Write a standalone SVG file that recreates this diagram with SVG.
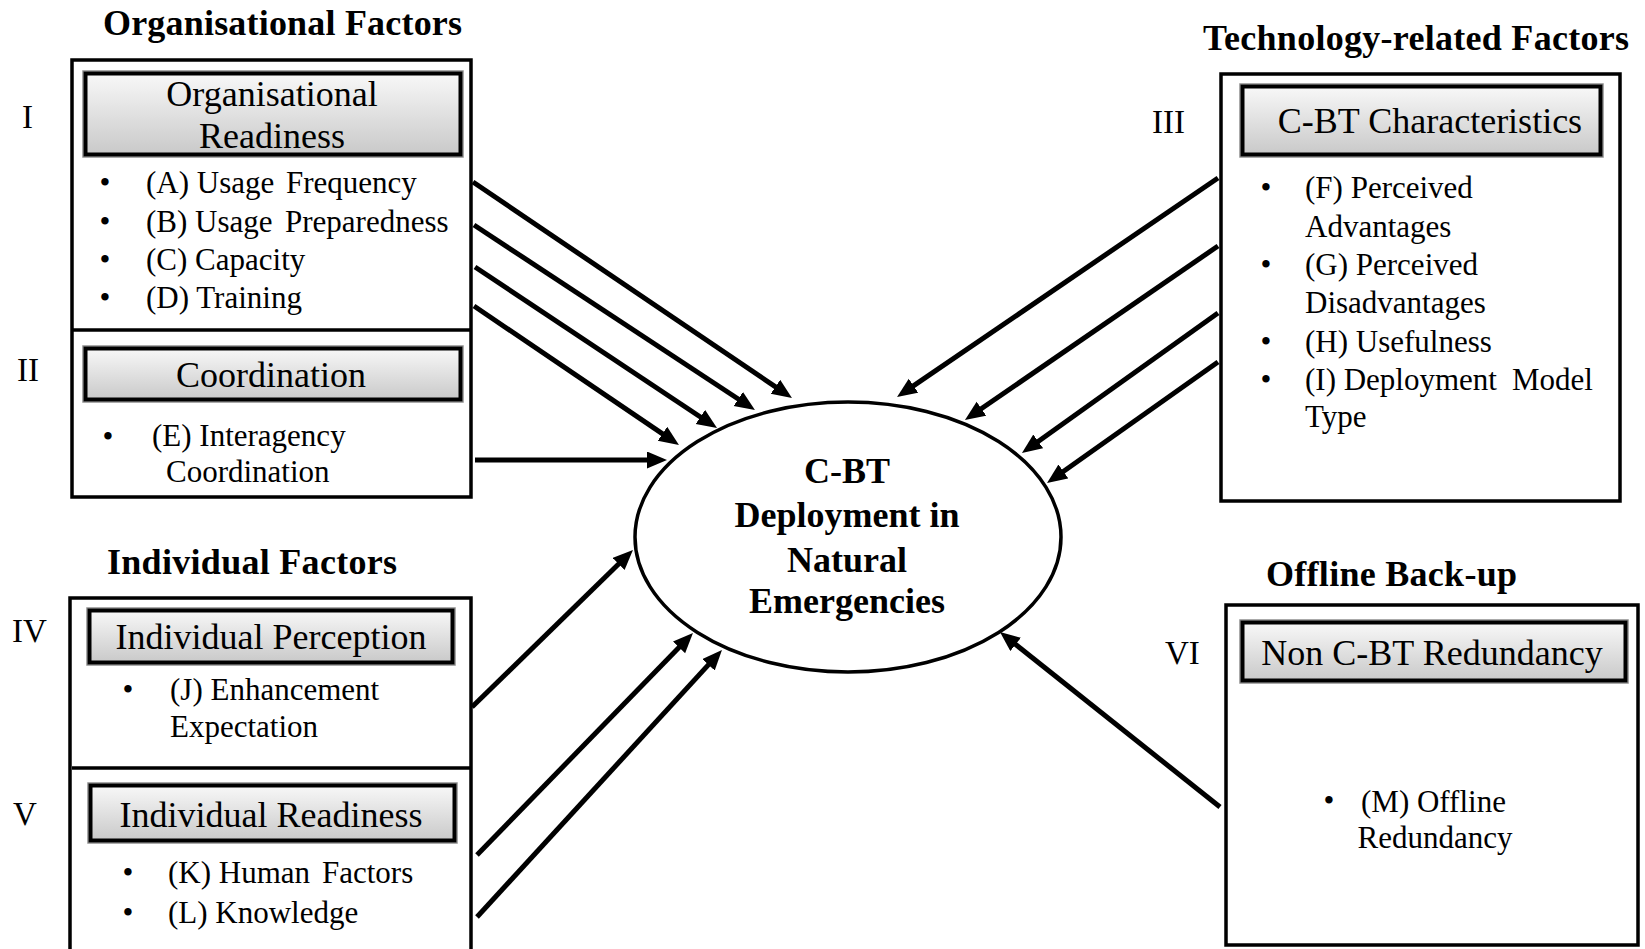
<svg xmlns="http://www.w3.org/2000/svg" width="1645" height="949" viewBox="0 0 1645 949">
<style>
.t{font-family:"Liberation Serif","Times New Roman",serif;fill:#000}
.title{font-size:36px;font-weight:bold}
.hd{font-size:36px;text-anchor:middle}
.li{font-size:31px}
.bl{font-size:31px;text-anchor:middle}
.num{font-size:33px}
.ct{font-size:36px;font-weight:bold;text-anchor:middle}
.box{fill:#fff;stroke:#000;stroke-width:3.5}
.hbox{fill:url(#hg);stroke:#000;stroke-width:4}
.hedge{fill:none;stroke:#8e8e8e;stroke-width:1.5}
.arr{stroke:#000;stroke-width:5;fill:none;marker-end:url(#ah)}
</style>
<defs>
<linearGradient id="hg" x1="0" y1="0" x2="0" y2="1">
<stop offset="0" stop-color="#f8f8f8"/>
<stop offset="1" stop-color="#c9c9c9"/>
</linearGradient>
<marker id="ah" markerUnits="userSpaceOnUse" markerWidth="22" markerHeight="18" refX="10" refY="8.5" orient="auto">
<path d="M0,0 L20,8.5 L0,17 z" fill="#000"/>
</marker>
</defs>
<rect width="1645" height="949" fill="#fff"/>

<g id="organisational">
<text class="t title" x="103" y="35" textLength="359">Organisational Factors</text>
<rect class="box" x="72" y="60" width="399" height="437"/>
<line x1="72" y1="330" x2="471" y2="330" stroke="#000" stroke-width="3.5"/>
<g id="org-readiness">
<text class="t num" x="22" y="128">I</text>
<rect class="hedge" x="83" y="71" width="380" height="86"/>
<rect class="hbox" x="85.5" y="73.5" width="375" height="81"/>
<text class="t hd" x="272" y="106">Organisational</text>
<text class="t hd" x="272" y="148">Readiness</text>
<text class="t bl" x="105" y="193">•</text>
<text class="t li" x="146" y="193">(A) Usage <tspan x="286">Frequency</tspan></text>
<text class="t bl" x="105" y="232">•</text>
<text class="t li" x="146" y="232">(B) Usage <tspan x="285">Preparedness</tspan></text>
<text class="t bl" x="105" y="270">•</text>
<text class="t li" x="146" y="270">(C) Capacity</text>
<text class="t bl" x="105" y="308">•</text>
<text class="t li" x="146" y="308">(D) Training</text>
</g>
<g id="coordination">
<text class="t num" x="17" y="381">II</text>
<rect class="hedge" x="83" y="346" width="380" height="56"/>
<rect class="hbox" x="85.5" y="348.5" width="375" height="51"/>
<text class="t hd" x="271" y="387">Coordination</text>
<text class="t bl" x="108" y="447">•</text>
<text class="t li" x="152" y="446">(E) Interagency</text>
<text class="t li" x="166" y="482">Coordination</text>
</g>
</g>

<g id="individual">
<text class="t title" x="107" y="574" textLength="290">Individual Factors</text>
<rect class="box" x="70" y="598" width="401" height="400"/>
<line x1="72" y1="768" x2="471" y2="768" stroke="#000" stroke-width="3.5"/>
<g id="ind-perception">
<text class="t num" x="12" y="642">IV</text>
<rect class="hedge" x="87" y="608" width="368" height="57"/>
<rect class="hbox" x="89.5" y="610.5" width="363" height="52"/>
<text class="t hd" x="271" y="649">Individual Perception</text>
<text class="t bl" x="128" y="700">•</text>
<text class="t li" x="170" y="700">(J) Enhancement</text>
<text class="t li" x="170" y="737">Expectation</text>
</g>
<g id="ind-readiness">
<text class="t num" x="13" y="825">V</text>
<rect class="hedge" x="88" y="783" width="369" height="60"/>
<rect class="hbox" x="90.5" y="785.5" width="364" height="55"/>
<text class="t hd" x="271" y="827">Individual Readiness</text>
<text class="t bl" x="128" y="883">•</text>
<text class="t li" x="168" y="883">(K) Human <tspan x="322">Factors</tspan></text>
<text class="t bl" x="128" y="923">•</text>
<text class="t li" x="168" y="923">(L) Knowledge</text>
</g>
</g>

<g id="technology">
<text class="t title" x="1203" y="50" textLength="426">Technology-related Factors</text>
<rect class="box" x="1221" y="74" width="399" height="427"/>
<g id="cbt-characteristics">
<text class="t num" x="1152" y="133">III</text>
<rect class="hedge" x="1240" y="84" width="363" height="73"/>
<rect class="hbox" x="1242.5" y="86.5" width="358" height="68"/>
<text class="t hd" x="1430" y="133">C-BT Characteristics</text>
<text class="t bl" x="1266" y="198">•</text>
<text class="t li" x="1305" y="198">(F) Perceived</text>
<text class="t li" x="1305" y="237">Advantages</text>
<text class="t bl" x="1266" y="275">•</text>
<text class="t li" x="1305" y="275">(G) Perceived</text>
<text class="t li" x="1305" y="313">Disadvantages</text>
<text class="t bl" x="1266" y="352">•</text>
<text class="t li" x="1305" y="352">(H) Usefulness</text>
<text class="t bl" x="1266" y="390">•</text>
<text class="t li" x="1305" y="390">(I) Deployment <tspan x="1512">Model</tspan></text>
<text class="t li" x="1305" y="427">Type</text>
</g>
</g>

<g id="offline">
<text class="t title" x="1266" y="586" textLength="251">Offline Back-up</text>
<rect class="box" x="1226" y="605" width="412" height="340"/>
<g id="non-cbt">
<text class="t num" x="1165" y="664">VI</text>
<rect class="hedge" x="1240" y="620" width="388" height="63"/>
<rect class="hbox" x="1242.5" y="622.5" width="383" height="58"/>
<text class="t hd" x="1432" y="665">Non C-BT Redundancy</text>
<text class="t bl" x="1329" y="811">•</text>
<text class="t li" x="1361" y="812">(M) Offline</text>
<text class="t li" x="1435" y="848" text-anchor="middle">Redundancy</text>
</g>
</g>

<g id="cbt-deployment">
<ellipse cx="848" cy="537" rx="213" ry="135" fill="#fff" stroke="#000" stroke-width="3.5"/>
<text class="t ct" x="847" y="483">C-BT</text>
<text class="t ct" x="847" y="527">Deployment in</text>
<text class="t ct" x="847" y="572">Natural</text>
<text class="t ct" x="847" y="613">Emergencies</text>
</g>

<g id="connectors">
<line class="arr" x1="473" y1="182" x2="783.7" y2="392.4"/>
<line class="arr" x1="474" y1="225" x2="746.6" y2="404.5"/>
<line class="arr" x1="475" y1="267" x2="708.7" y2="422.5"/>
<line class="arr" x1="474" y1="306" x2="670.7" y2="439.4"/>
<line class="arr" x1="475" y1="460" x2="657" y2="460"/>
<line class="arr" x1="1218" y1="178" x2="905.3" y2="391.4"/>
<line class="arr" x1="1218" y1="246" x2="973.2" y2="414.3"/>
<line class="arr" x1="1218" y1="313" x2="1030.1" y2="447.2"/>
<line class="arr" x1="1218" y1="362" x2="1055.2" y2="477.2"/>
<line class="arr" x1="472" y1="707" x2="625.8" y2="557"/>
<line class="arr" x1="477" y1="855" x2="686" y2="640.2"/>
<line class="arr" x1="477" y1="917" x2="715.2" y2="657.4"/>
<line class="arr" x1="1220" y1="807" x2="1007.8" y2="638.2"/>
</g>
</svg>
